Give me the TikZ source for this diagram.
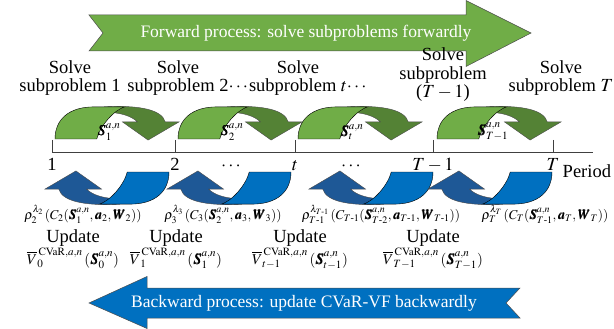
\documentclass[tikz,border=0pt]{standalone}
\usepackage{amsmath}
\usepackage{mathptmx}
\usepackage{bm}
\usepackage{fontspec}
\setmainfont{Liberation Serif}
\usetikzlibrary{positioning}

\definecolor{lgreen}{RGB}{112,173,71}
\definecolor{dgreen}{RGB}{84,130,53}
\definecolor{lblue}{RGB}{0,112,192}
\definecolor{dblue}{RGB}{30,88,150}

\tikzset{
  lbl/.style={font=\fontsize{18.5}{18.5}\selectfont,align=center,inner sep=0pt},
  eqn/.style={font=\fontsize{13.5}{14}\selectfont,inner sep=0pt},
  vfn/.style={font=\fontsize{15}{15}\selectfont,inner sep=0pt},
  sname/.style={font=\fontsize{15}{15}\selectfont,inner sep=0pt},
  bantext/.style={font=\fontsize{17.5}{18}\selectfont,text=white,inner sep=0pt},
  fgl/.style={fill=lgreen,draw=black,line width=.4pt},
  fgd/.style={fill=dgreen,draw=black!70,line width=.4pt},
  bkl/.style={fill=lblue,draw=black,line width=.4pt},
  bkd/.style={fill=dblue,draw=black!70,line width=.4pt},
  pics/curvarr/.style 2 args={code={
    \draw[#2] (46,-30) .. controls (80,-32) and (100,-27) .. (103,-16) -- (116,-16) -- (87,1) -- (63,-16) -- (77,-16)
      .. controls (72,-21) and (62,-25) .. (46,-25) -- cycle;
    \draw[#1] (0,0) .. controls (0,-19) and (14,-30) .. (36,-30) -- (65,-30) .. controls (55,-27) and (42,-12) .. (39,0) -- cycle;
  }}
}

\begin{document}
\begin{tikzpicture}[x=1pt,y=-1pt]
\useasboundingbox (0,0) rectangle (614,329);
% banners
\draw[fill=lgreen,draw=black!70,line width=.5pt] (89,15) -- (466,15) -- (466,.5) -- (531,33) -- (466,66.5) -- (466,51) -- (89,51) -- (103,33) -- cycle;
\node[bantext] (fwd) at (306,33) {Forward process: solve subproblems forwardly};
\draw[fill=lblue,draw=black!70,line width=.5pt] (89,303) -- (147,276.5) -- (147,288) -- (520,288) -- (506,303) -- (520,318) -- (147,318) -- (147,328.5) -- cycle;
\node[bantext] (bwd) at (304,303) {Backward process: update CVaR-VF backwardly};

% subproblem labels (base = last line)
\node[lbl,anchor=base] (sol1) at (70,92) {Solve\\subproblem 1};
\node[lbl,anchor=base] (sol2) at (178,92) {Solve\\subproblem 2\rlap{$\cdots$}};
\node[lbl,anchor=base] (sol3) at (298,92) {Solve\\subproblem $t$\rlap{$\cdots$}};
\node[lbl,anchor=base] (sol4) at (443,98) {Solve\\subproblem\\($T-1$)};
\node[lbl,anchor=base] (sol5) at (561,92) {Solve\\subproblem $T$};

% period axis
\draw[line width=.6pt,black!75] (52,152) -- (593,152);
\foreach \x in {52,175,295,433,553} \draw[line width=.6pt,black!75] (\x,140) -- (\x,152);
\foreach \x/\t [count=\i] in {52/1,175/2,232/$\cdots$,295/$t$,352/$\cdots$,433/$T-1$,553/$T$}
  \node[lbl,anchor=base] (tk\i) at (\x,171) {\t};
\node[lbl,anchor=base west,right=3pt of tk7.base east] (per) {Period};

% forward / backward curved arrows
\foreach \x in {55,178,298,437} \pic[scale=1.07] at (\x,139) {curvarr={fgl}{fgd}};
\foreach \x in {169,291,433,552} \pic[rotate=180,scale=1.07] at (\x,172) {curvarr={bkl}{bkd}};

\node[sname] (s1) at (109,132) {$\bm{S}_1^{a,n}$};
\node[sname] (s2) at (232,132) {$\bm{S}_2^{a,n}$};
\node[sname] (s3) at (352,132) {$\bm{S}_t^{a,n}$};
\node[sname] (s4) at (493,132) {$\bm{S}_{T-1}^{a,n}$};

% risk terms
\node[eqn,anchor=base] (rho1) at (83,219) {$\rho_2^{\lambda_2}\,(C_2(\bm{S}_1^{a,n},\bm{a}_2,\bm{W}_2))$};
\node[eqn,anchor=base] (rho2) at (223,219) {$\rho_3^{\lambda_3}\,(C_3(\bm{S}_2^{a,n},\bm{a}_3,\bm{W}_3))$};
\node[eqn,anchor=base] (rho3) at (381,219) {$\rho_{T\text{-}1}^{\lambda_{T\text{-}1}}\,(C_{T\text{-}1}(\bm{S}_{T\text{-}2}^{a,n},\bm{a}_{T\text{-}1},\bm{W}_{T\text{-}1}))$};
\node[eqn,anchor=base] (rho4) at (545,219) {$\rho_T^{\lambda_T}\,(C_T(\bm{S}_{T\text{-}1}^{a,n},\bm{a}_T,\bm{W}_T))$};

% value function updates
\foreach \x/\v/\s [count=\i] in {73/0/0,176/1/1,300/{t-1}/{t-1},433/{T-1}/{T-1}} {
  \node[lbl,anchor=base] (upd\i) at (\x,242) {Update};
  \node[vfn,anchor=base] (vf\i) at (\x,264) {$\overline{V}_{\v}^{\,\mathrm{CVaR},a,n}\,(\bm{S}_{\s}^{a,n})$};
}
\end{tikzpicture}
\end{document}
